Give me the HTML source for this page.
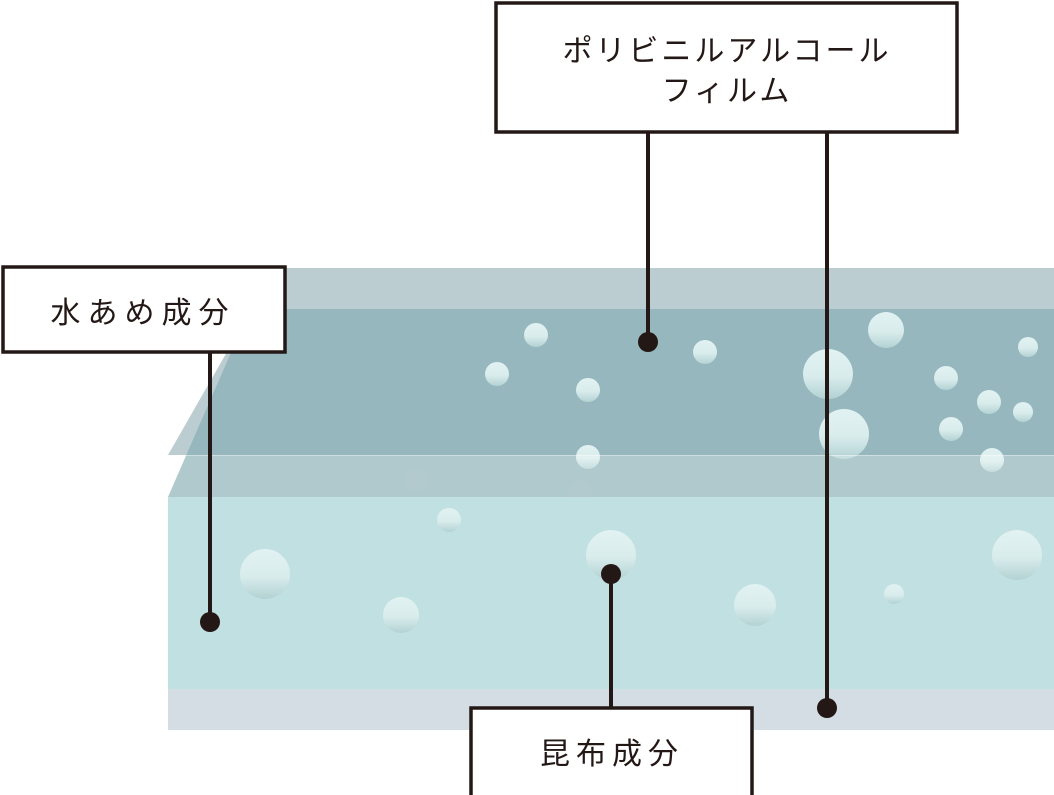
<!DOCTYPE html>
<html><head><meta charset="utf-8"><style>
html,body{margin:0;padding:0;background:#fff;width:1054px;height:795px;overflow:hidden}
svg text{font-family:"Liberation Sans","Noto Sans CJK JP",sans-serif;fill:#231815}
</style></head><body>
<svg width="1054" height="795" viewBox="0 0 1054 795" xmlns="http://www.w3.org/2000/svg">
<defs>
<linearGradient id="b" x1="0" y1="0" x2="0" y2="1">
<stop offset="0" stop-color="#e2f2f2"/><stop offset="0.55" stop-color="#d9ecec"/><stop offset="1" stop-color="#b3d2d3"/>
</linearGradient>
</defs>
<polygon points="168,455 275,268 1054,268 1054,455" fill="#bccdd1"/>
<polygon points="168,497 250,309 1054,309 1054,497" fill="#95b7bd"/>
<g fill="url(#b)">
<circle cx="536" cy="335" r="12"/><circle cx="497" cy="374" r="12"/><circle cx="588" cy="390" r="12"/>
<circle cx="705" cy="352" r="12"/><circle cx="828" cy="374" r="25"/><circle cx="886" cy="330" r="18"/>
<circle cx="844" cy="434" r="25"/><circle cx="946" cy="378" r="12"/><circle cx="989" cy="402" r="12"/>
<circle cx="1023" cy="412" r="10"/><circle cx="1028" cy="347" r="10"/><circle cx="951" cy="429" r="12"/>
<circle cx="992" cy="460" r="12"/><circle cx="588" cy="457" r="12"/>
</g>
<g fill="#98b8bc"><circle cx="416" cy="480" r="12"/><circle cx="580" cy="492" r="12"/></g>
<rect x="168" y="455" width="886" height="42" fill="#ffffff" fill-opacity="0.25"/>
<line x1="168" y1="455.5" x2="1054" y2="455.5" stroke="#ffffff" stroke-opacity="0.4"/>
<rect x="168" y="497" width="886" height="192" fill="#c1e0e2"/>
<rect x="168" y="689" width="886" height="41" fill="#d5dde4"/>
<g fill="url(#b)">
<circle cx="449" cy="520" r="12"/><circle cx="611" cy="555" r="25"/><circle cx="265" cy="574" r="25"/>
<circle cx="401" cy="615" r="18"/><circle cx="755" cy="605" r="21"/><circle cx="894" cy="594" r="10"/>
<circle cx="1017" cy="555" r="25"/>
</g>
<g stroke="#231815" stroke-width="4">
<line x1="210" y1="353" x2="210" y2="622"/>
<line x1="648" y1="133" x2="648" y2="342"/>
<line x1="827" y1="133" x2="827" y2="708"/>
<line x1="611" y1="574" x2="611" y2="707"/>
</g>
<g fill="#231815">
<circle cx="210" cy="622" r="10"/><circle cx="648" cy="342" r="10"/>
<circle cx="827" cy="708" r="10"/><circle cx="611" cy="574" r="10"/>
</g>
<g fill="#fff" stroke="#231815" stroke-width="3.5">
<rect x="3" y="267" width="282" height="85"/>
<rect x="496" y="3" width="461" height="129"/>
<rect x="471" y="708" width="281" height="95"/>
</g>
<text x="143" y="323" font-size="30" text-anchor="middle" letter-spacing="7">水あめ成分</text>
<text x="727" y="61" font-size="30" text-anchor="middle" letter-spacing="3">ポリビニルアルコール</text>
<text x="727" y="101" font-size="30" text-anchor="middle" letter-spacing="3">フィルム</text>
<text x="612" y="764" font-size="30" text-anchor="middle" letter-spacing="6">昆布成分</text>
</svg>
</body></html>
